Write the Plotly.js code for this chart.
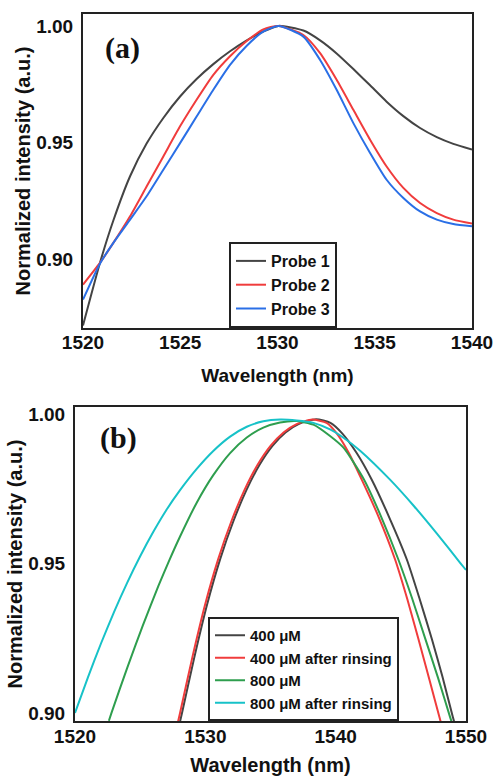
<!DOCTYPE html>
<html>
<head>
<meta charset="utf-8">
<script src="https://cdn.plot.ly/plotly-3.0.1.min.js"></script>
<style>html,body{margin:0;padding:0;background:#fff;}#chart{width:493px;height:781px;}</style>
</head>
<body>
<div id="chart"></div>
<script>
// ---- Panel (a) data ----
const wlProbe = [1520, 1520.87, 1521.56, 1522.42, 1523.27, 1524.13, 1524.99, 1525.84, 1526.7, 1527.56, 1528.42, 1529.27, 1530.05, 1531.33, 1532.19, 1533.04, 1533.9, 1534.76, 1535.61, 1536.47, 1537.33, 1538.19, 1539.04, 1540];
const probe1 = [0.8715, 0.8983, 0.9165, 0.9355, 0.9495, 0.9605, 0.9697, 0.9772, 0.9836, 0.9891, 0.9938, 0.9976, 1.0, 0.998, 0.9938, 0.9882, 0.9815, 0.9745, 0.9675, 0.9613, 0.9562, 0.9523, 0.9494, 0.947];
const probe2 = [0.889, 0.8983, 0.9069, 0.9183, 0.9311, 0.944, 0.9569, 0.9683, 0.979, 0.987, 0.9935, 0.9985, 1.0, 0.9961, 0.9883, 0.9769, 0.964, 0.9512, 0.9397, 0.9305, 0.924, 0.9197, 0.9169, 0.9152];
const probe3 = [0.8826, 0.898, 0.9069, 0.9169, 0.9269, 0.9383, 0.9497, 0.9611, 0.9726, 0.9833, 0.9915, 0.9975, 1.0, 0.9954, 0.9854, 0.9726, 0.9583, 0.9455, 0.934, 0.9262, 0.9204, 0.9169, 0.915, 0.914];
const probeNames = ['Probe 1', 'Probe 2', 'Probe 3'];

// ---- Panel (b) data ----
const wl400 = [1528.0, 1528.21, 1529.15, 1530.15, 1531.15, 1532.15, 1533.15, 1534.15, 1535.15, 1536.15, 1537.15, 1538.5, 1539.6, 1540.5, 1541.6, 1542.77, 1544.1, 1545.46, 1546.45, 1547.38, 1548.2, 1548.99, 1549.3];
const int400 = [0.896, 0.90, 0.9185, 0.9365, 0.9516, 0.9641, 0.9745, 0.9829, 0.9893, 0.9938, 0.9966, 0.9982, 0.997, 0.9935, 0.987, 0.978, 0.9655, 0.9513, 0.938, 0.9247, 0.912, 0.8986, 0.894];
const wl400r = [1527.85, 1528.06, 1529.0, 1530.0, 1531.0, 1532.0, 1533.0, 1534.0, 1535.0, 1536.0, 1537.0, 1538.2, 1539.3, 1540.08, 1541.0, 1542.0, 1543.3, 1544.56, 1545.5, 1546.35, 1547.2, 1547.96, 1548.25];
const int400r = [0.896, 0.90, 0.9185, 0.9365, 0.9516, 0.9641, 0.9745, 0.9829, 0.9893, 0.9938, 0.9966, 0.9981, 0.997, 0.9935, 0.987, 0.978, 0.9655, 0.9513, 0.938, 0.9247, 0.911, 0.8986, 0.894];
const wl800 = [1522.6, 1522.8, 1524.0, 1525.2, 1526.4, 1527.2, 1528.06, 1529.34, 1530.61, 1531.9, 1533.18, 1534.45, 1535.73, 1537.0, 1538.29, 1539.57, 1540.6, 1542.18, 1543.5, 1544.81, 1545.85, 1546.86, 1547.85, 1548.78, 1549.05];
const int800 = [0.8974, 0.90, 0.915, 0.9292, 0.9425, 0.9507, 0.959, 0.9703, 0.9795, 0.9869, 0.9921, 0.9954, 0.9971, 0.9976, 0.9964, 0.9926, 0.9887, 0.978, 0.9655, 0.9513, 0.9385, 0.925, 0.9118, 0.8986, 0.895];
const wl800r = [1520, 1521, 1522, 1523, 1524, 1525, 1526, 1527, 1528.06, 1529.34, 1530.61, 1531.9, 1533.18, 1534.45, 1535.73, 1537.0, 1538.29, 1539.57, 1540.6, 1541.9, 1544.17, 1546.0, 1547.8, 1549.55, 1550];
const int800r = [0.900, 0.912, 0.9233, 0.9338, 0.9435, 0.9524, 0.9605, 0.9678, 0.9745, 0.9816, 0.9876, 0.9924, 0.9957, 0.9975, 0.9981, 0.9978, 0.997, 0.9948, 0.992, 0.9876, 0.978, 0.9692, 0.9598, 0.9502, 0.9478];
const concNames = ['400 μM', '400 μM after rinsing', '800 μM', '800 μM after rinsing'];

const ticksA = [0.90, 0.95, 1.00];
const ticksB = [0.90, 0.95, 1.00];

const FONT = 'Liberation Sans, Arial, sans-serif';
const colA = ['#444444', '#f03c3c', '#2a6fe6'];
const colB = ['#444444', '#f03c3c', '#2e9e4e', '#17c2c8'];

function line(x, y, name, color, xa, ya, lg) {
  return {x: x, y: y, name: name, type: 'scatter', mode: 'lines', xaxis: xa, yaxis: ya, legend: lg,
          line: {color: color, width: 2, shape: 'spline', smoothing: 0.6}};
}

const data = [
  line(wlProbe, probe1, probeNames[0], colA[0], 'x', 'y', 'legend'),
  line(wlProbe, probe2, probeNames[1], colA[1], 'x', 'y', 'legend'),
  line(wlProbe, probe3, probeNames[2], colA[2], 'x', 'y', 'legend'),
  line(wl400, int400, concNames[0], colB[0], 'x2', 'y2', 'legend2'),
  line(wl400r, int400r, concNames[1], colB[1], 'x2', 'y2', 'legend2'),
  line(wl800, int800, concNames[2], colB[2], 'x2', 'y2', 'legend2'),
  line(wl800r, int800r, concNames[3], colB[3], 'x2', 'y2', 'legend2')
];

function axisBase() {
  return {showline: true, mirror: true, linecolor: '#222', linewidth: 2, ticks: '', showgrid: false,
          zeroline: false, automargin: false, ticklabeloverflow: 'allow',
          tickfont: {family: FONT, size: 19, weight: 'bold', color: '#111'}};
}

const xa = Object.assign(axisBase(), {domain: [0.02015, 1], anchor: 'y', range: [1520, 1540], tick0: 1520, dtick: 5,
  ticklabelstandoff: -4,
  title: {text: 'Wavelength (nm)', font: {family: FONT, size: 19, weight: 'bold', color: '#111'}, standoff: 17}});
const ya = Object.assign(axisBase(), {domain: [0.55587, 1], anchor: 'x', range: [0.8704, 1.0051], tickvals: ticksA,
  tickformat: '.2f', ticklabelstandoff: 4,
  title: {text: 'Normalized intensity (a.u.)', font: {family: FONT, size: 20, weight: 'bold', color: '#111'}}});
const xb = Object.assign(axisBase(), {domain: [0, 0.98489], anchor: 'y2', range: [1520, 1550], tick0: 1520, dtick: 10,
  ticklabelstandoff: -3,
  title: {text: 'Wavelength (nm)', font: {family: FONT, size: 20, weight: 'bold', color: '#111'}, standoff: 12}});
const yb = Object.assign(axisBase(), {domain: [0, 0.44413], anchor: 'x2', range: [0.8973, 1.0023], tickvals: ticksB,
  tickformat: '.2f', ticklabelstandoff: 4,
  title: {text: 'Normalized intensity (a.u.)', font: {family: FONT, size: 20, weight: 'bold', color: '#111'}}});

const layout = {
  width: 493, height: 781,
  margin: {l: 75, r: 21, t: 14, b: 60},
  paper_bgcolor: '#fff', plot_bgcolor: '#fff',
  font: {family: FONT, color: '#111'},
  xaxis: xa, yaxis: ya, xaxis2: xb, yaxis2: yb,
  legend: {x: 0.3879, y: 0.55587, xanchor: 'left', yanchor: 'bottom', bgcolor: '#fff', bordercolor: '#222', borderwidth: 2,
           font: {family: FONT, size: 16, weight: 'bold', color: '#111'}, tracegroupgap: 0},
  legend2: {x: 0.335, y: 0, xanchor: 'left', yanchor: 'bottom', bgcolor: '#fff', bordercolor: '#222', borderwidth: 2,
           font: {family: FONT, size: 15, weight: 'bold', color: '#111'}, tracegroupgap: 0},
  annotations: [
    {text: '(a)', xref: 'paper', yref: 'paper', x: 0.1209, y: 0.9519, xanchor: 'center', yanchor: 'middle', showarrow: false,
     font: {family: 'Liberation Serif, Times New Roman, serif', size: 30, weight: 'bold', color: '#111'}},
    {text: '(b)', xref: 'paper', yref: 'paper', x: 0.1108, y: 0.4003, xanchor: 'center', yanchor: 'middle', showarrow: false,
     font: {family: 'Liberation Serif, Times New Roman, serif', size: 30, weight: 'bold', color: '#111'}}
  ]
};

Plotly.newPlot('chart', data, layout, {displayModeBar: false, staticPlot: true});
</script>
</body>
</html>
